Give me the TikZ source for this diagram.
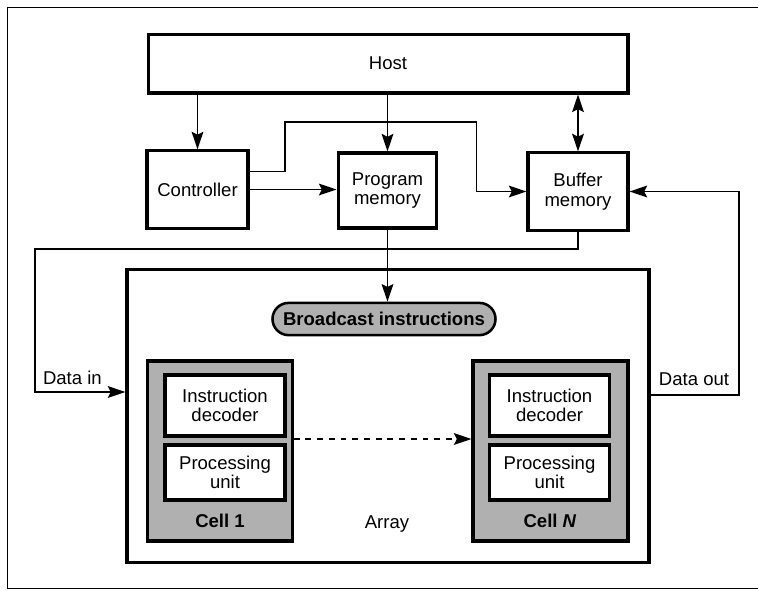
\documentclass[tikz,border=0pt]{standalone}
\usepackage{fontspec}
\setmainfont{Liberation Sans}
\usetikzlibrary{positioning,shapes.misc,arrows.meta,calc}

\begin{document}
\begin{tikzpicture}[x=0.018cm, y=-0.018cm,
  >={Stealth[length=9pt,width=6pt,inset=1.5pt]},
  every node/.style={font=\fontsize{9.5}{10}\selectfont},
  box/.style={draw, line width=1.6pt, fill=white, align=center, inner sep=2pt},
  cell/.style={draw, line width=1.6pt, fill=gray!62, inner sep=0pt},
  shadetext/.style={font=\fontsize{9.5}{10}\selectfont\bfseries},
  link/.style={line width=0.9pt, ->}
]
  \useasboundingbox (0,0) rectangle (758,590);
  \draw[line width=0.5pt] (758,7) -| (7,588) -- (758,588);

  % top row
  \node[box, minimum width=8.64cm, minimum height=1.06cm] (host) at (388,63.5) {Host};
  \node[box, minimum width=1.82cm, minimum height=1.39cm] (ctrl) at (197.5,189.5) {Controller};
  \node[box, minimum width=1.78cm, minimum height=1.35cm] (pm) at (387.5,190.5) {Program\\memory};
  \node[box, minimum width=1.80cm, minimum height=1.39cm] (buf) at (578,191.5) {Buffer\\memory};

  % array
  \node[box, minimum width=9.40cm, minimum height=5.29cm] (array) at (388,416) {};
  \node (arraylbl) at (387,524) {Array};
  \node[draw, rounded rectangle, line width=1.3pt, fill=gray!62, shadetext,
        minimum width=4.25cm, minimum height=0.58cm] (bcast) at (384,319) {Broadcast instructions};

  \node[cell, minimum width=2.60cm, minimum height=3.24cm] (cell1) at (220,451) {};
  \node[box, minimum width=2.16cm, minimum height=1.10cm] (dec1) at (225,405.5) {Instruction\\decoder};
  \node[box, minimum width=2.16cm, minimum height=0.99cm] (pu1) at (225,472.5) {Processing\\unit};
  \node[shadetext] (lbl1) at (220,521) {Cell 1};

  \node[cell, minimum width=2.79cm, minimum height=3.24cm] (cellN) at (550.5,451) {};
  \node[box, minimum width=2.16cm, minimum height=1.10cm] (decN) at (549.5,405.5) {Instruction\\decoder};
  \node[box, minimum width=2.16cm, minimum height=0.99cm] (puN) at (549.5,472.5) {Processing\\unit};
  \node[shadetext] (lblN) at (550,521) {Cell \textit{N}};

  % connectors
  \draw[link] (ctrl |- host.south) -- (ctrl.north);
  \draw[link] (pm |- host.south) -- (pm.north);
  \draw[link, <->] (buf |- host.south) -- (buf.north);
  \draw[link] (ctrl.east) -- (ctrl.east -| pm.west);
  \draw[link] ($(ctrl.east)+(0,-18)$) -| (285,122) -| ($(buf.west)+(-50,0)$) -- (buf.west);
  \draw[link] (pm.south) -- (pm.south |- bcast.north);
  \draw[link] (buf.south) -- ++(0,17) -| (35,392) -- (array.west |- 0,392)
    node[pos=0.5, above, xshift=-4pt] (datain) {Data in};
  \draw[link] ($(array.east)+(0,-21)$) -| (739,191.5) -- (buf.east);
  \node (dataout) at (694,379) {Data out};
  \draw[link, dashed] (cell1.east |- 0,439) -- (cellN.west |- 0,439);
\end{tikzpicture}
\end{document}
